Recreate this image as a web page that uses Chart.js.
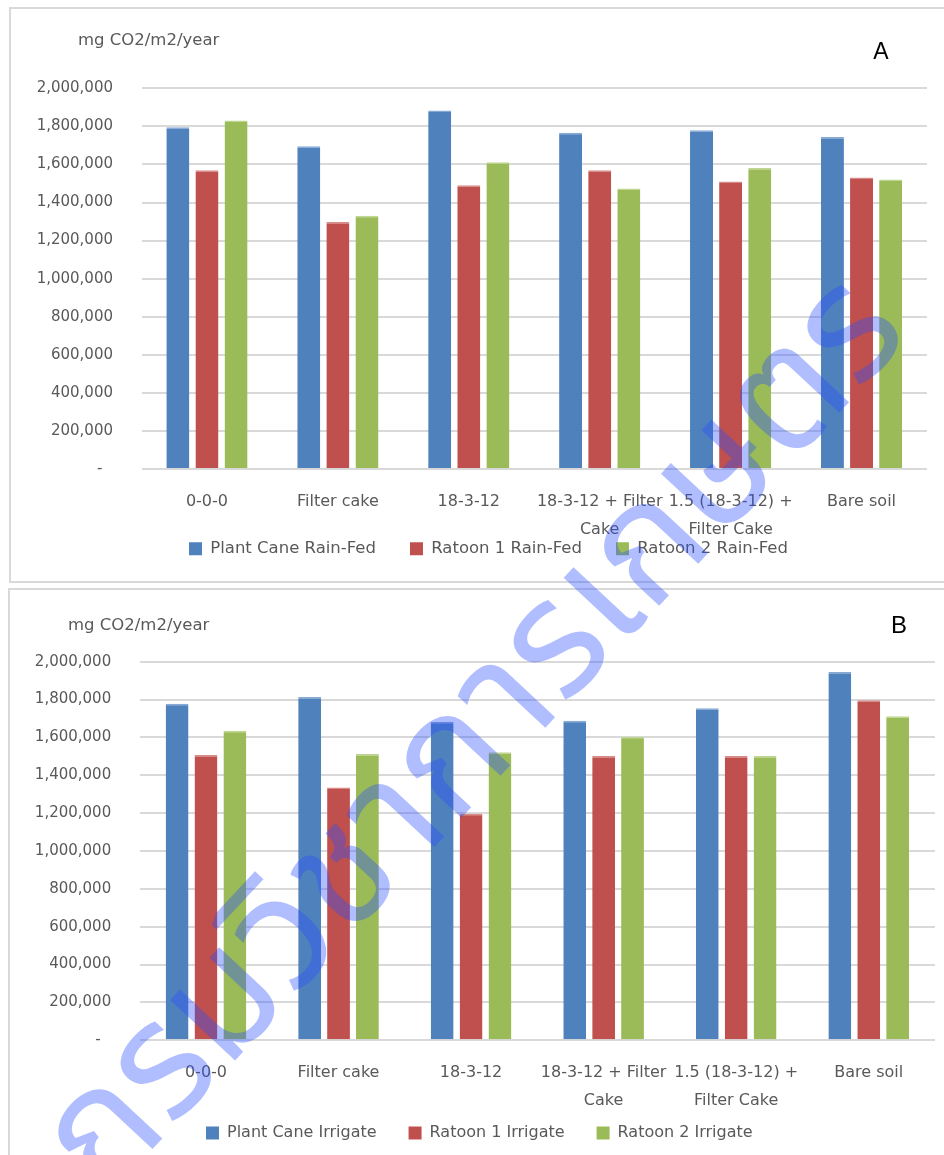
<!DOCTYPE html>
<html>
<head>
<meta charset="utf-8">
<script src="https://cdn.jsdelivr.net/npm/chart.js@4.4.0/dist/chart.umd.min.js"></script>
<style>
  html, body { margin: 0; padding: 0; background: #fff; width: 944px; height: 1155px; overflow: hidden; }
  body { position: relative; }
  .frame { position: absolute; border: 2px solid #d9d9d9; box-sizing: border-box; }
  #frameA { left: 9px; top: 7px; width: 960px; height: 576px; }
  #frameB { left: 8px; top: 588px; width: 960px; height: 600px; }
  canvas { position: absolute; left: 0; }
  #chartA { top: 0; }
  #chartB { top: 586px; }
  #mark { top: 0; pointer-events: none; }
</style>
</head>
<body>
<div class="frame" id="frameA"></div>
<div class="frame" id="frameB"></div>
<canvas id="chartA" width="944" height="640"></canvas>
<canvas id="chartB" width="944" height="640"></canvas>
<canvas id="mark" width="944" height="1155"></canvas>
<script>
// Treatments on the x axis (multi-line entries wrap the long names)
const categories = ['0-0-0', 'Filter cake', '18-3-12', ['18-3-12 + Filter', 'Cake'], ['1.5 (18-3-12) +', 'Filter Cake'], 'Bare soil'];

// Panel A: rain-fed crops (mg CO2/m2/year)
const plantCaneRainFed = [1796000, 1695000, 1884000, 1766000, 1779000, 1744000];
const ratoon1RainFed   = [1570000, 1297000, 1491000, 1570000, 1511000, 1532000];
const ratoon2RainFed   = [1831000, 1330000, 1611000, 1474000, 1581000, 1521000];

// Panel B: irrigated crops (mg CO2/m2/year)
const plantCaneIrrigate = [1778000, 1813000, 1683000, 1688000, 1754000, 1946000];
const ratoon1Irrigate   = [1507000, 1336000, 1197000, 1502000, 1502000, 1796000];
const ratoon2Irrigate   = [1635000, 1512000, 1521000, 1604000, 1502000, 1712000];

const seriesNamesA = ['Plant Cane Rain-Fed', 'Ratoon 1 Rain-Fed', 'Ratoon 2 Rain-Fed'];
const seriesNamesB = ['Plant Cane Irrigate', 'Ratoon 1 Irrigate', 'Ratoon 2 Irrigate'];

const yMin = 0, yMax = 2000000, yStep = 200000;
const unitLabel = 'mg CO2/m2/year';
const watermarkText = 'กรมวิชาการเกษตร';

const fills = ['#4f81bd', '#c0504d', '#9bbb59'];
const edges = ['#86a9d6', '#d88a88', '#bfd690'];
const textGrey = '#595959';
const uiFont = '"DejaVu Sans", Verdana, sans-serif';

Chart.defaults.font.family = uiFont;
Chart.defaults.color = textGrey;

// Draws the unit caption and the panel letter
const panelText = {
  id: 'panelText',
  afterDraw(chart, args, o) {
    const ctx = chart.ctx;
    ctx.save();
    ctx.textBaseline = 'middle';
    ctx.textAlign = 'left';
    ctx.fillStyle = textGrey;
    ctx.font = '16.5px ' + uiFont;
    ctx.fillText(o.unit, o.unitX, o.unitY);
    ctx.textAlign = 'center';
    ctx.fillStyle = '#000';
    ctx.font = o.letterFont;
    ctx.fillText(o.letter, o.letterX, o.letterY);
    ctx.restore();
  }
};

// Puts the legend row at a fixed spot just under the axis labels
const legendSpot = {
  id: 'legendSpot',
  afterLayout(chart, args, o) {
    const lg = chart.legend;
    if (!lg) return;
    const lab = lg.options.labels;
    const pad = lab.padding;
    const w = lg.right - lg.left, h = lg.bottom - lg.top;
    const itemH = Math.max(lab.font.size, lab.boxHeight);
    lg.left = o.x - pad; lg.right = lg.left + w;
    lg.top = o.cy - pad - itemH / 2; lg.bottom = lg.top + h;
  }
};

function buildChart(id, names, series, g) {
  return new Chart(document.getElementById(id), {
    type: 'bar',
    data: {
      labels: categories,
      datasets: series.map((d, i) => ({
        label: names[i],
        data: d,
        backgroundColor: fills[i],
        borderColor: edges[i],
        borderWidth: { top: 1.5, left: 0, right: 0, bottom: 0 },
        categoryPercentage: g.cat,
        barPercentage: g.bar
      }))
    },
    options: {
      responsive: false,
      animation: false,
      layout: { padding: { left: 0, right: g.padR, top: g.padT, bottom: g.padB } },
      scales: {
        x: {
          grid: { display: false, drawTicks: false },
          border: { display: false },
          ticks: { color: textGrey, font: { size: 16, lineHeight: 1.75 }, padding: g.xPad, maxRotation: 0, autoSkip: false },
          afterFit(s) { s.height = g.xH; }
        },
        y: {
          min: yMin, max: yMax,
          grid: { color: '#d9d9d9', lineWidth: 2, drawTicks: false },
          border: { display: false },
          ticks: {
            stepSize: yStep, padding: 28.5, color: textGrey, font: { size: 15 },
            callback: v => v === 0 ? '-\u2002\u2009' : v.toLocaleString('en-US')
          },
          afterFit(s) { s.width = g.yW; }
        }
      },
      plugins: {
        legend: {
          position: 'bottom',
          align: 'start',
          labels: {
            boxWidth: 13, boxHeight: 13, padding: g.legPad, color: textGrey, font: { size: g.legFont },
            generateLabels(chart) {
              return Chart.defaults.plugins.legend.labels.generateLabels(chart).map(it => {
                it.lineWidth = 0; it.strokeStyle = it.fillStyle; return it;
              });
            }
          }
        },
        tooltip: { enabled: false },
        panelText: g.text,
        legendSpot: g.legend
      }
    },
    plugins: [panelText, legendSpot]
  });
}

// Canvas height 640: chart area bottom = 640 - padB - legend (font + padding + 10) - xH
buildChart('chartA', seriesNamesA, [plantCaneRainFed, ratoon1RainFed, ratoon2RainFed], {
  cat: 0.667, bar: 0.79,
  padR: 17, padT: 88.3, padB: 39.5,
  yW: 141.5, xH: 71, xPad: 19,
  legPad: 34, legFont: 16.5, legend: { x: 189, cy: 548.7 },
  text: { unit: unitLabel, unitX: 78, unitY: 41, letter: 'A', letterX: 881, letterY: 53, letterFont: '23px "Liberation Sans", Arial, sans-serif' }
});

buildChart('chartB', seriesNamesB, [plantCaneIrrigate, ratoon1Irrigate, ratoon2Irrigate], {
  cat: 0.654, bar: 0.79,
  padR: 9, padT: 75.7, padB: 56.7,
  yW: 139.7, xH: 71, xPad: 18.7,
  legPad: 32, legFont: 16, legend: { x: 206, cy: 547 },
  text: { unit: unitLabel, unitX: 68, unitY: 39.7, letter: 'B', letterX: 899, letterY: 40, letterFont: '24px "Liberation Sans", Arial, sans-serif' }
});

// Agency watermark laid diagonally across both panels
(function () {
  const c = document.getElementById('mark');
  const ctx = c.getContext('2d');
  ctx.save();
  ctx.translate(105, 1200);
  ctx.rotate(-47 * Math.PI / 180);
  ctx.font = '162px "Noto Sans Thai", "Noto Sans", "DejaVu Sans", sans-serif';
  ctx.fillStyle = 'rgba(40, 80, 255, 0.37)';
  ctx.textBaseline = 'alphabetic';
  ctx.fillText(watermarkText, 0, 0);
  ctx.restore();
})();
</script>
</body>
</html>
